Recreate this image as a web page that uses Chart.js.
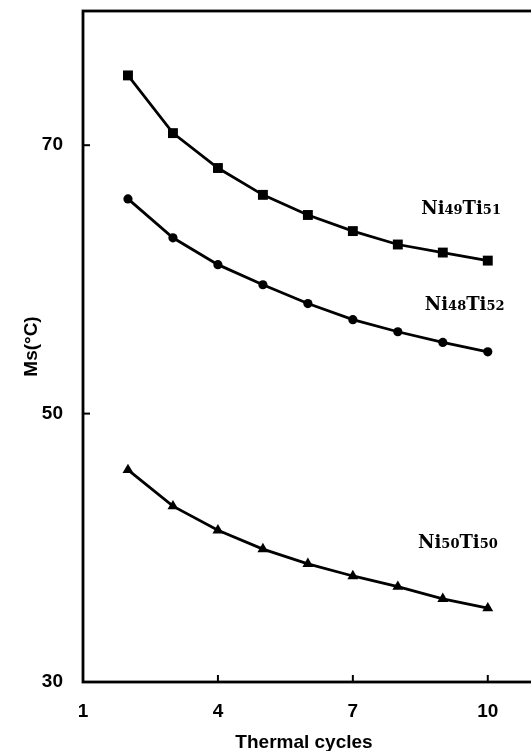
<!DOCTYPE html>
<html>
<head>
<meta charset="utf-8">
<script src="https://cdn.jsdelivr.net/npm/chart.js@4.4.0/dist/chart.umd.min.js"></script>
<style>
  html, body { margin: 0; padding: 0; background: #fff; overflow: hidden; }
  canvas { display: block; }
</style>
</head>
<body>
<canvas id="grafica" width="560" height="751"></canvas>
<script>
// datos
const cycles = [2, 3, 4, 5, 6, 7, 8, 9, 10]
const ni49ti51 = [75.2, 70.9, 68.3, 66.3, 64.8, 63.6, 62.6, 62.0, 61.4]
const ni48ti52 = [66.0, 63.1, 61.1, 59.6, 58.2, 57.0, 56.1, 55.3, 54.6]
const ni50ti50 = [45.8, 43.1, 41.3, 39.9, 38.8, 37.9, 37.1, 36.2, 35.5]
const xTicks = [1, 4, 7, 10]
const yTicks = [30, 50, 70]
const xTitle = "Thermal cycles"
const yTitle = "Ms(°C)"

// etiquetas de cada aleacion: [texto, es subindice]
const etiquetas = [
    { partes: [["Ni", false], ["49", true], ["Ti", false], ["51", true]], x: 8.52, y: 65.3 },
    { partes: [["Ni", false], ["48", true], ["Ti", false], ["52", true]], x: 8.6, y: 58.2 },
    { partes: [["Ni", false], ["50", true], ["Ti", false], ["50", true]], x: 8.45, y: 40.4 }
]

const toPts = (ys) => cycles.map((c, i) => ({ x: c, y: ys[i] }))

const serie = (label, ys, estilo, radio) => ({
    label: label,
    data: toPts(ys),
    borderColor: "#000",
    backgroundColor: "#000",
    borderWidth: 2.8,
    pointStyle: estilo,
    pointRadius: radio,
    pointBorderWidth: 0,
    tension: 0
})

const marco = {
    id: "marco",
    afterDraw(chart) {
        const c = chart.ctx
        const a = chart.chartArea
        const sx = chart.scales.x
        const sy = chart.scales.y
        c.save()
        c.strokeStyle = "#000"
        c.lineWidth = 2.8
        c.strokeRect(a.left, a.top, a.right - a.left, a.bottom - a.top)
        c.lineWidth = 2
        // marcas hacia adentro
        xTicks.slice(1).forEach(v => {
            let px = sx.getPixelForValue(v)
            c.beginPath(); c.moveTo(px, a.bottom); c.lineTo(px, a.bottom - 7); c.stroke()
        })
        yTicks.slice(1).forEach(v => {
            let py = sy.getPixelForValue(v)
            c.beginPath(); c.moveTo(a.left, py); c.lineTo(a.left + 7, py); c.stroke()
        })
        // titulo eje x
        c.fillStyle = "#000"
        c.font = "bold 19px 'Liberation Sans', Arial, sans-serif"
        c.textAlign = "center"
        c.textBaseline = "middle"
        c.fillText(xTitle, 304, 743)
        // etiquetas de aleaciones
        c.textAlign = "left"
        c.textBaseline = "alphabetic"
        etiquetas.forEach(et => {
            let px = sx.getPixelForValue(et.x)
            let py = sy.getPixelForValue(et.y) + 6
            et.partes.forEach(p => {
                c.font = p[1] ? "bold 13px 'DejaVu Serif', serif" : "bold 18px 'DejaVu Serif', serif"
                c.fillText(p[0], px, py)
                px += c.measureText(p[0]).width
            })
        })
        c.restore()
    }
}

const ctx = document.getElementById("grafica")

let grafico = new Chart(ctx, {
    type: "line",
    data: {
        datasets: [
            serie("Ni49Ti51", ni49ti51, "rect", 7),
            serie("Ni48Ti52", ni48ti52, "circle", 4.6),
            serie("Ni50Ti50", ni50ti50, "triangle", 6.3)
        ]
    },
    options: {
        responsive: false,
        animation: false,
        layout: { padding: { top: 11, right: 16, left: 0, bottom: 0 } },
        plugins: { legend: { display: false }, tooltip: { enabled: false } },
        scales: {
            x: {
                type: "linear",
                min: 1,
                max: 11.25,
                afterBuildTicks: (s) => { s.ticks = xTicks.map(v => ({ value: v })) },
                afterFit: (s) => { s.height = 69; s.paddingLeft = 0; s.paddingRight = 0 },
                grid: { display: false, drawTicks: false },
                border: { display: false },
                ticks: {
                    color: "#000",
                    padding: 18,
                    maxRotation: 0,
                    font: { family: "'Liberation Sans', Arial, sans-serif", size: 19, weight: "bold" }
                }
            },
            y: {
                min: 30,
                max: 80,
                afterBuildTicks: (s) => { s.ticks = yTicks.map(v => ({ value: v })) },
                afterFit: (s) => { s.width = 83; s.paddingTop = 0; s.paddingBottom = 0 },
                grid: { display: false, drawTicks: false },
                border: { display: false },
                ticks: {
                    color: "#000",
                    padding: 20,
                    font: { family: "'Liberation Sans', Arial, sans-serif", size: 19, weight: "bold" }
                },
                title: {
                    display: true,
                    text: yTitle,
                    color: "#000",
                    padding: { top: 20, bottom: 0 },
                    font: { family: "'Liberation Sans', Arial, sans-serif", size: 19, weight: "bold" }
                }
            }
        }
    },
    plugins: [marco]
})
</script>
</body>
</html>
